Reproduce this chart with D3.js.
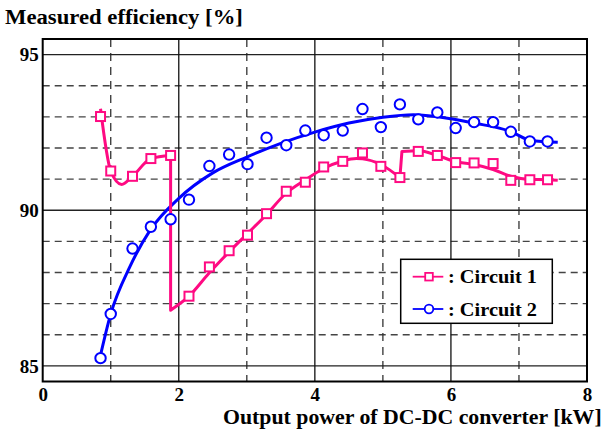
<!DOCTYPE html>
<html>
<head>
<meta charset="utf-8">
<script src="https://cdn.jsdelivr.net/npm/d3@7"></script>
<style>
  body { margin: 0; background: #fff; }
  svg { display: block; }
</style>
</head>
<body>
<svg id="chart" width="609" height="433"></svg>
<script>
// Output power of the DC-DC converter [kW] at each measurement
const powerKW = [0.85, 1.00, 1.32, 1.59, 1.88, 2.15, 2.45, 2.74, 3.01, 3.29, 3.58, 3.86, 4.13,
                 4.41, 4.70, 4.97, 5.25, 5.52, 5.80, 6.07, 6.34, 6.62, 6.88, 7.16, 7.42];

// Measured efficiency [%]
const circuit1 = [93.01, 91.26, 91.09, 91.66, 91.76, 87.24, 88.18, 88.70, 89.20, 89.89, 90.61, 90.90, 91.39,
                  91.57, 91.84, 91.41, 91.05, 91.89, 91.76, 91.53, 91.52, 91.50, 90.96, 90.98, 90.98];
const circuit2 = [85.25, 86.67, 88.77, 89.47, 89.71, 90.34, 91.42, 91.79, 91.48, 92.33, 92.09, 92.56, 92.41,
                  92.56, 93.25, 92.67, 93.40, 92.92, 93.14, 92.64, 92.83, 92.83, 92.52, 92.21, 92.21];

// Fitted trend of circuit 1; it jumps where the operating mode changes
const fit1Power = [0.85, 1.00, 1.16, 1.32, 1.59, 1.88,
                   1.88, 2.15, 2.44, 2.73, 3.00, 3.28, 3.57, 3.85, 4.13, 4.41, 4.61, 4.70, 4.97, 5.25,
                   5.28, 5.53, 5.80, 6.07, 6.34, 6.62, 6.88, 7.15, 7.42, 7.57];
const fit1Eff = [93.26, 91.26, 90.83, 91.09, 91.66, 91.76,
                 86.79, 87.24, 87.97, 88.64, 89.23, 89.84, 90.53, 90.96, 91.34, 91.58, 91.66, 91.65, 91.47, 91.05,
                 91.89, 91.91, 91.76, 91.56, 91.47, 91.31, 91.09, 90.99, 90.98, 90.96];
const fit1SegmentStarts = [0, 6, 20];

// Fitted trend of circuit 2
const fit2Power = [0.84, 1.00, 1.28, 1.58, 2.00, 2.50, 3.00, 3.50, 4.00, 4.50, 5.00, 5.45, 6.00,
                   6.34, 6.89, 7.17, 7.57];
const fit2Eff = [85.25, 86.67, 88.18, 89.36, 90.38, 91.20, 91.71, 92.15, 92.51, 92.80, 92.99, 93.07, 92.94,
                 92.80, 92.52, 92.24, 92.18];

const xTicks = [0, 2, 4, 6, 8];
const xMinor = [1, 3, 5, 7];
const yTicks = [85, 90, 95];
const yMinor = [86, 87, 88, 89, 91, 92, 93, 94];
const seriesNames = ["Circuit 1", "Circuit 2"];

const colors = ["#ff0a82", "#0000ff"];
const frame = { left: 42.7, right: 587, top: 39, bottom: 381.5 };
const FONT = '"Liberation Serif"';

const svg = d3.select("#chart");
const x = d3.scaleLinear().domain([0, 8]).range([frame.left, frame.right]);
const y = d3.scaleLinear().domain([84.5, 95.5]).range([frame.bottom, frame.top]);

function styleText(sel, size) {
  return sel.style("font-family", FONT).style("font-weight", "bold")
    .style("font-size", size + "px").attr("fill", "#000");
}

// Text placed at (tx, ty), stretched horizontally to span the given width
function fittedText(str, tx, ty, size, width, anchor) {
  const g = svg.append("g");
  const t = styleText(g.append("text"), size).text(str);
  const w = t.node().getComputedTextLength() || width;
  const sx = width / w;
  const x0 = anchor === "end" ? tx - width : tx;
  g.attr("transform", `translate(${x0},${ty}) scale(${sx},1)`);
  return t;
}

// Grid lines
const grid = svg.append("g");
grid.selectAll(".hminor").data(yMinor).join("line")
  .attr("x1", frame.left).attr("x2", frame.right)
  .attr("y1", d => y(d)).attr("y2", d => y(d))
  .attr("stroke", "#444").attr("stroke-width", 1.4).attr("stroke-dasharray", "7,5");
grid.selectAll(".vminor").data(xMinor).join("line")
  .attr("x1", d => x(d)).attr("x2", d => x(d))
  .attr("y1", frame.top).attr("y2", frame.bottom)
  .attr("stroke", "#333").attr("stroke-width", 1.3).attr("stroke-dasharray", "8,6");
grid.selectAll(".hmajor").data(yTicks).join("line")
  .attr("x1", frame.left).attr("x2", frame.right)
  .attr("y1", d => y(d)).attr("y2", d => y(d))
  .attr("stroke", "#222").attr("stroke-width", 1.3);
grid.selectAll(".vmajor").data(xTicks.slice(1, -1)).join("line")
  .attr("x1", d => x(d)).attr("x2", d => x(d))
  .attr("y1", frame.top).attr("y2", frame.bottom)
  .attr("stroke", "#111").attr("stroke-width", 1.3);

// Frame
svg.append("rect")
  .attr("x", frame.left).attr("y", frame.top)
  .attr("width", frame.right - frame.left).attr("height", frame.bottom - frame.top)
  .attr("fill", "none").attr("stroke", "#000").attr("stroke-width", 2);

// Axes (labels only)
const xAxis = svg.append("g")
  .attr("transform", `translate(0,${frame.bottom})`)
  .call(d3.axisBottom(x).tickValues(xTicks).tickSize(0).tickFormat(d3.format("d")));
xAxis.select(".domain").remove();
xAxis.attr("font-family", null).attr("font-size", null);
styleText(xAxis.selectAll("text"), 19).attr("y", 19.5).attr("dy", null);

const yAxis = svg.append("g")
  .attr("transform", `translate(${frame.left},0)`)
  .call(d3.axisLeft(y).tickValues(yTicks).tickSize(0).tickPadding(4).tickFormat(d3.format("d")));
yAxis.select(".domain").remove();
yAxis.attr("font-family", null).attr("font-size", null);
styleText(yAxis.selectAll("text"), 19).attr("dy", "0.33em");

// Titles
fittedText("Measured efficiency [%]", 5, 24, 20, 238, "start");
fittedText("Output power of DC-DC converter [kW]", 602, 424, 20, 379, "end");

// Fitted curves
function fitPath(px, py, starts) {
  const pts = px.map((p, i) => [x(p), y(py[i])]);
  const bounds = starts.concat([pts.length]);
  const gen = d3.line().curve(d3.curveMonotoneX);
  let d = "";
  for (let s = 0; s < starts.length; s++) {
    const seg = gen(pts.slice(bounds[s], bounds[s + 1]));
    d += s === 0 ? seg : "L" + seg.slice(1);
  }
  return d;
}
svg.append("path").attr("d", fitPath(fit2Power, fit2Eff, [0]))
  .attr("fill", "none").attr("stroke", colors[1]).attr("stroke-width", 3).attr("stroke-linejoin", "round");
svg.append("path").attr("d", fitPath(fit1Power, fit1Eff, fit1SegmentStarts))
  .attr("fill", "none").attr("stroke", colors[0]).attr("stroke-width", 3).attr("stroke-linejoin", "round");

// Markers
const sq = 9;
svg.append("g").selectAll("rect").data(powerKW).join("rect")
  .attr("x", (d) => x(d) - sq / 2).attr("y", (d, i) => y(circuit1[i]) - sq / 2)
  .attr("width", sq).attr("height", sq)
  .attr("fill", "#fff").attr("stroke", colors[0]).attr("stroke-width", 2);
svg.append("g").selectAll("circle").data(powerKW).join("circle")
  .attr("cx", d => x(d)).attr("cy", (d, i) => y(circuit2[i])).attr("r", 5.2)
  .attr("fill", "#fff").attr("stroke", colors[1]).attr("stroke-width", 2);

// Legend
const lg = svg.append("g");
lg.append("rect").attr("x", 400.7).attr("y", 259.3).attr("width", 151.6).attr("height", 64)
  .attr("fill", "#fff").attr("stroke", "#000").attr("stroke-width", 1.5);
const rows = [276.7, 309];
seriesNames.forEach((name, i) => {
  const ry = rows[i];
  lg.append("line").attr("x1", 412.7).attr("x2", 443.3).attr("y1", ry).attr("y2", ry)
    .attr("stroke", colors[i]).attr("stroke-width", 1.8);
  if (i === 0) {
    lg.append("rect").attr("x", 429 - 3.8).attr("y", ry - 3.8).attr("width", 7.6).attr("height", 7.6)
      .attr("fill", "#fff").attr("stroke", colors[i]).attr("stroke-width", 1.8);
  } else {
    lg.append("circle").attr("cx", 429).attr("cy", ry).attr("r", 4.3)
      .attr("fill", "#fff").attr("stroke", colors[i]).attr("stroke-width", 1.8);
  }
  fittedText(": " + name, 448, ry + 6.5, 18, 89, "start");
});
</script>
</body>
</html>
